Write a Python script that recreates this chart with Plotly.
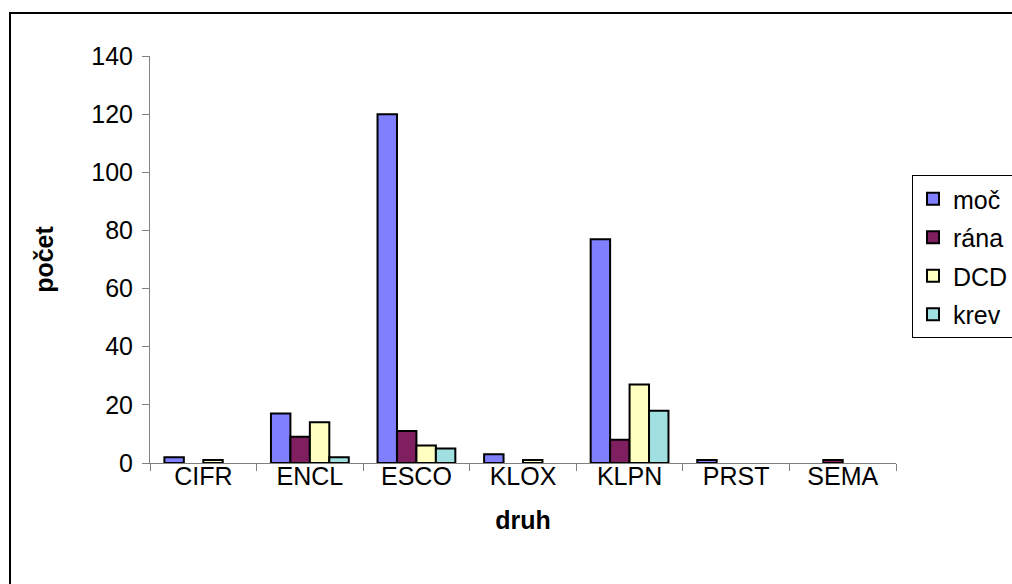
import plotly.graph_objects as go

# Species codes on the category axis
druh = ["CIFR", "ENCL", "ESCO", "KLOX", "KLPN", "PRST", "SEMA"]

# Counts per specimen type
moc = [2, 17, 120, 3, 77, 1, 0]
rana = [0, 9, 11, 0, 8, 0, 1]
dcd = [1, 14, 6, 1, 27, 0, 0]
krev = [0, 2, 5, 0, 18, 0, 0]

y_ticks = [0, 20, 40, 60, 80, 100, 120, 140]

series = [
    ("moč", moc, "#8080ff"),
    ("rána", rana, "#801f60"),
    ("DCD", dcd, "#ffffc0"),
    ("krev", krev, "#a0e0e0"),
]

FONT = "Liberation Sans, Arial, sans-serif"
FS = 25

fig = go.Figure()
for i, (name, vals, color) in enumerate(series):
    # empty categories get no bar at all (not even an outline)
    shown = [v if v else None for v in vals]
    fig.add_trace(go.Bar(
        name=name, x=druh, y=shown,
        marker=dict(color=color, line=dict(color="black", width=2)),
        legendgroup=f"g{i}",
    ))

W, H = 1012, 584
L, R, T, B = 150, 116, 56, 121
pw, ph = W - L - R, H - T - B

def px_x(x):
    return (x - L) / pw

def px_y(y):
    return (H - B - y) / ph

fig.update_layout(
    width=W, height=H,
    margin=dict(l=L, r=R, t=T, b=B, pad=0, autoexpand=False),
    paper_bgcolor="white", plot_bgcolor="white",
    barmode="group", bargap=0.27, bargroupgap=0,
    font=dict(family=FONT, size=FS, color="black"),
    showlegend=True,
    legend=dict(
        x=px_x(912), xanchor="left", y=px_y(175), yanchor="top",
        bordercolor="black", borderwidth=1, bgcolor="white",
        font=dict(family=FONT, size=FS, color="black"),
        traceorder="grouped", tracegroupgap=3,
    ),
    xaxis=dict(
        showline=True, linecolor="#808080", linewidth=1,
        ticks="outside", tickson="boundaries", ticklen=7, tickcolor="#808080",
        showgrid=False, ticklabelstandoff=-9,
        title=dict(text="<b>druh</b>", font=dict(family=FONT, size=FS), standoff=22),
    ),
    yaxis=dict(
        range=[0, 140], tickvals=y_ticks,
        showline=True, linecolor="#808080", linewidth=1,
        ticks="outside", ticklen=7, tickcolor="#808080",
        showgrid=False, zeroline=False, ticklabelstandoff=4,
        title=dict(text="<b>počet</b>", font=dict(family=FONT, size=FS), standoff=30),
    ),
    shapes=[
        dict(type="rect", xref="paper", yref="paper",
             x0=px_x(10), x1=px_x(1030), y0=px_y(600), y1=px_y(13),
             line=dict(color="black", width=2), fillcolor="rgba(0,0,0,0)",
             layer="below"),
    ],
)

fig.write_html("out.html")
